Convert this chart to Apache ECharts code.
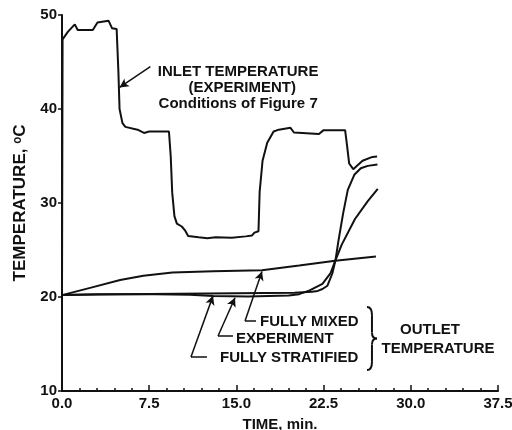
<!DOCTYPE html>
<html><head><meta charset="utf-8">
<script src="https://cdn.jsdelivr.net/npm/echarts@6/dist/echarts.min.js"></script>
<style>html,body{margin:0;padding:0;background:#fff}#c{width:512px;height:430px}</style>
</head><body><div id="c"></div>
<script>
// ---- axis ticks ----
const xTicks = [0, 7.5, 15, 22.5, 30, 37.5];
const yTicks = [10, 20, 30, 40, 50];

// ---- Inlet temperature (experiment) ----
const inletTime = [0, 0.05, 0.5, 1.1, 1.35, 2.65, 3.05, 4.0, 4.3, 4.7, 4.85, 4.95, 5.2, 5.45, 6.5, 7.05, 7.5, 9.2, 9.35, 9.48, 9.67, 9.88, 10.3, 10.6, 10.85, 11.75, 12.5, 13.2, 14.6, 15.8, 16.35, 16.55, 16.9, 17.0, 17.25, 17.65, 18.2, 18.65, 19.65, 19.95, 22.1, 22.5, 24.35, 24.5, 24.7, 25.05, 25.4, 25.85, 26.7, 27.1];
const inletTemp = [20.2, 47.4, 48.2, 49.0, 48.4, 48.4, 49.2, 49.4, 48.6, 48.5, 44.0, 40.0, 38.5, 38.1, 37.8, 37.45, 37.6, 37.6, 35.0, 31.1, 28.6, 27.8, 27.5, 27.05, 26.5, 26.35, 26.25, 26.35, 26.3, 26.45, 26.55, 26.85, 27.0, 31.2, 34.5, 36.4, 37.6, 37.8, 38.0, 37.5, 37.35, 37.75, 37.75, 36.3, 34.2, 33.6, 34.0, 34.5, 34.9, 34.95];

// ---- Outlet temperature: fully mixed ----
const mixedTime = [0, 2.5, 5, 7, 9.5, 13, 17.2, 20.4, 23.5, 27];
const mixedTemp = [20.2, 21.0, 21.8, 22.25, 22.6, 22.75, 22.85, 23.35, 23.85, 24.3];

// ---- Outlet temperature: experiment ----
const expTime = [0, 3, 8, 11, 13, 16, 19.5, 20.4, 21.3, 22.4, 23.1, 23.5, 24.07, 25.2, 26.3, 27.16];
const expTemp = [20.2, 20.3, 20.3, 20.25, 20.1, 20.05, 20.15, 20.3, 20.7, 21.4, 22.55, 23.85, 25.6, 28.3, 30.2, 31.5];

// ---- Outlet temperature: fully stratified ----
const stratTime = [0, 5, 10, 15, 20, 21.5, 22.0, 22.4, 22.83, 23.25, 23.52, 23.78, 24.18, 24.58, 25.14, 25.7, 26.3, 27.13];
const stratTemp = [20.2, 20.3, 20.35, 20.4, 20.45, 20.55, 20.65, 20.85, 21.2, 22.5, 23.9, 26.0, 28.9, 31.4, 33.0, 33.7, 33.95, 34.1];

// ---- annotation texts and anchors (data units) ----
const inletLabel = ['INLET TEMPERATURE', '(EXPERIMENT)', 'Conditions of Figure 7'];
const inletLabelAt = [[15.15, 44.0], [15.5, 42.3], [15.15, 40.5]];
const inletLeader = [[7.6, 44.5], [4.95, 42.3]];
const outletLabels = ['FULLY MIXED', 'EXPERIMENT', 'FULLY STRATIFIED'];
const outletLabelAt = [[17.03, 17.34], [14.97, 15.53], [13.59, 13.51]];
const outletCorner = [[15.74, 17.45], [13.42, 15.85], [11.09, 13.62]];
const outletDashEnd = [[16.69, 17.45], [14.71, 15.85], [12.47, 13.62]];
const outletTip = [[17.2, 22.72], [14.88, 19.92], [12.99, 20.12]];
const braceBox = [[26.23, 18.94], [27.09, 12.23]];
const outletTitle = ['OUTLET', 'TEMPERATURE'];
const outletTitleAt = [[31.65, 16.49], [32.34, 14.47]];

const INK = '#111';
const FONT = 'Liberation Sans, Arial, sans-serif';

function pairs(xs, ys) { return xs.map((x, i) => [x, ys[i]]); }

const markLines = [];
markLines.push([{ coord: inletLeader[0], symbol: 'none' }, { coord: inletLeader[1], symbol: 'arrow' }]);
for (let i = 0; i < outletLabels.length; i++) {
  markLines.push([{ coord: outletCorner[i], symbol: 'none' }, { coord: outletDashEnd[i], symbol: 'none' }]);
  markLines.push([{ coord: outletCorner[i], symbol: 'none' }, { coord: outletTip[i], symbol: 'arrow' }]);
}

function lineSeries(name, xs, ys, extra) {
  return Object.assign({
    name: name, type: 'line', data: pairs(xs, ys), showSymbol: false, symbol: 'none',
    smooth: false, lineStyle: { color: INK, width: 2 }, silent: true, animation: false,
    emphasis: { disabled: true }
  }, extra || {});
}

const chart = echarts.init(document.getElementById('c'), null, { renderer: 'canvas' });
chart.setOption({
  animation: false,
  backgroundColor: '#fff',
  grid: { left: 62, right: 14, top: 15, bottom: 39, containLabel: false, outerBoundsMode: 'none' },
  xAxis: {
    type: 'value', min: xTicks[0], max: xTicks[xTicks.length - 1], interval: xTicks[1] - xTicks[0],
    name: 'TIME, min.', nameLocation: 'middle', nameGap: 26,
    nameTextStyle: { color: INK, fontFamily: FONT, fontWeight: 'bold', fontSize: 15 },
    axisLine: { show: true, lineStyle: { color: INK, width: 2 } },
    axisTick: { show: true, inside: true, length: 6, lineStyle: { color: INK, width: 1.5 } },
    minorTick: { show: true, splitNumber: 5, length: 3, lineStyle: { color: INK, width: 1.5 } },
    splitLine: { show: false }, minorSplitLine: { show: false },
    axisLabel: { color: INK, fontFamily: FONT, fontWeight: 'bold', fontSize: 15, margin: 5,
      showMinLabel: true, showMaxLabel: true, hideOverlap: false,
      formatter: v => v.toFixed(1) }
  },
  yAxis: {
    type: 'value', min: yTicks[0], max: yTicks[yTicks.length - 1], interval: yTicks[1] - yTicks[0],
    name: 'TEMPERATURE, \u1D52C', nameLocation: 'middle', nameGap: 33, nameRotate: 90,
    nameTextStyle: { color: INK, fontFamily: FONT, fontWeight: 'bold', fontSize: 17 },
    axisLine: { show: true, lineStyle: { color: INK, width: 2 } },
    axisTick: { show: true, inside: false, length: 4, lineStyle: { color: INK, width: 1.5 } },
    splitLine: { show: false },
    axisLabel: { color: INK, fontFamily: FONT, fontWeight: 'bold', fontSize: 15, margin: 5,
      showMinLabel: true, showMaxLabel: true }
  },
  series: [
    lineSeries('Inlet temperature (experiment)', inletTime, inletTemp, {
      markLine: {
        silent: true, animation: false, symbolSize: [7, 9], label: { show: false },
        lineStyle: { color: INK, width: 1.5, type: 'solid' }, emphasis: { disabled: true },
        data: markLines
      }
    }),
    lineSeries('Fully mixed', mixedTime, mixedTemp),
    lineSeries('Experiment', expTime, expTemp),
    lineSeries('Fully stratified', stratTime, stratTemp)
  ]
});

// ---- annotations positioned through the chart's own coordinate system ----
const px = p => chart.convertToPixel({ gridIndex: 0 }, p);
const graphics = [];
const txt = (s, p, align, size) => {
  const q = px(p);
  graphics.push({ type: 'text', x: q[0], y: q[1], silent: true,
    style: { text: s, fill: INK, font: 'bold ' + (size || 15) + 'px ' + FONT, align: align, verticalAlign: 'middle' } });
};
inletLabel.forEach((s, i) => txt(s, inletLabelAt[i], 'center'));
outletLabels.forEach((s, i) => txt(s, outletLabelAt[i], 'left'));
outletTitle.forEach((s, i) => txt(s, outletTitleAt[i], 'center'));

// brace "}" built from curve pieces scaled into its data-anchored box
const b0 = px(braceBox[0]), b1 = px(braceBox[1]);
const sx = (b1[0] - b0[0]) / 12, sy = (b1[1] - b0[1]) / 62;
const P = (x, y) => [b0[0] + x * sx, b0[1] + y * sy];
const braceStyle = { stroke: INK, lineWidth: 2, fill: null };
const bez = (a, c1, c2, b) => {
  const A = P(a[0], a[1]), C1 = P(c1[0], c1[1]), C2 = P(c2[0], c2[1]), B = P(b[0], b[1]);
  graphics.push({ type: 'bezierCurve', silent: true,
    shape: { x1: A[0], y1: A[1], cpx1: C1[0], cpy1: C1[1], cpx2: C2[0], cpy2: C2[1], x2: B[0], y2: B[1] },
    style: braceStyle });
};
const seg = (a, b) => {
  const A = P(a[0], a[1]), B = P(b[0], b[1]);
  graphics.push({ type: 'line', silent: true, shape: { x1: A[0], y1: A[1], x2: B[0], y2: B[1] }, style: braceStyle });
};
bez([0, 0], [5, 0], [6, 3], [6, 8]);
seg([6, 8], [6, 25]);
bez([6, 25], [6, 29], [8, 31], [12, 31]);
bez([12, 31], [8, 31], [6, 33], [6, 37]);
seg([6, 37], [6, 54]);
bez([6, 54], [6, 59], [5, 62], [0, 62]);

chart.setOption({ graphic: graphics });
</script>
</body></html>
